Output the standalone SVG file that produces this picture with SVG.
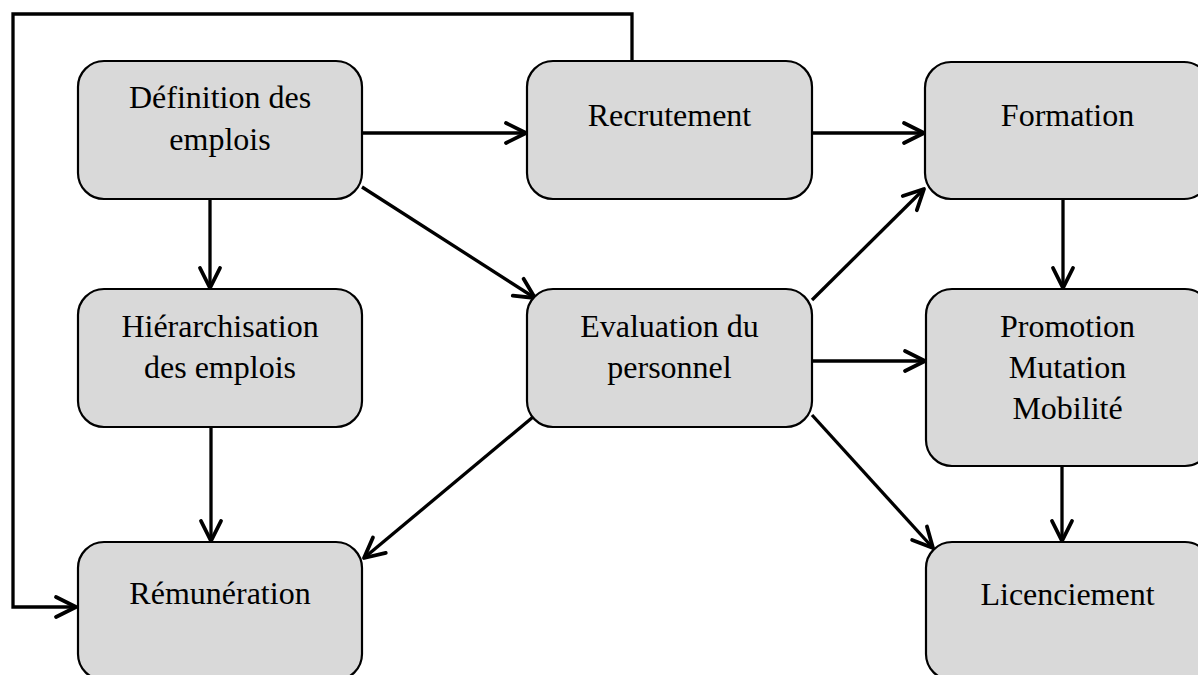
<svg xmlns="http://www.w3.org/2000/svg" width="1198" height="675" viewBox="0 0 1198 675">
<style>
.box{fill:#d9d9d9;stroke:#000;stroke-width:2.2}
.lbl{font-family:"Liberation Serif","Times New Roman",serif;font-size:32px;fill:#000;text-anchor:middle}
.con{fill:none;stroke:#000;stroke-width:3.3;marker-end:url(#arr)}
</style>
<defs>
<marker id="arr" markerUnits="userSpaceOnUse" viewBox="-24 -14 28 28" markerWidth="28" markerHeight="28" refX="0" refY="0" orient="auto">
<path d="M-20,-10 L0,0 L-20,10" fill="none" stroke="#000" stroke-width="3.8" stroke-linecap="round" stroke-linejoin="round"/>
</marker>
</defs>
<rect width="1198" height="675" fill="#fff"/>
<g id="connectors">
<path class="con" d="M632,61 V14 H13 V607 H76"/>
<path class="con" d="M362,133 H526"/>
<path class="con" d="M812,133 H924"/>
<path class="con" d="M210,199 V288"/>
<path class="con" d="M211,427 V541"/>
<path class="con" d="M362,187 L535,298"/>
<path class="con" d="M812,300 L924,189"/>
<path class="con" d="M812,361 H925"/>
<path class="con" d="M812,415 L933,548"/>
<path class="con" d="M533,417 L364,558"/>
<path class="con" d="M1063,199 V288"/>
<path class="con" d="M1062,466 V541"/>
</g>
<g id="n-definition">
<rect class="box" x="78" y="61" width="284" height="138" rx="26"/>
<text class="lbl" x="220" y="108">Définition des</text>
<text class="lbl" x="220" y="150">emplois</text>
</g>
<g id="n-recrutement">
<rect class="box" x="527" y="61" width="285" height="138" rx="26"/>
<text class="lbl" x="669.5" y="126">Recrutement</text>
</g>
<g id="n-formation">
<rect class="box" x="925" y="62" width="285" height="137" rx="26"/>
<text class="lbl" x="1067.5" y="126">Formation</text>
</g>
<g id="n-hierarchisation">
<rect class="box" x="78" y="289" width="284" height="138" rx="26"/>
<text class="lbl" x="220" y="337">Hiérarchisation</text>
<text class="lbl" x="220" y="378">des emplois</text>
</g>
<g id="n-evaluation">
<rect class="box" x="527" y="289" width="285" height="138" rx="26"/>
<text class="lbl" x="669.5" y="337">Evaluation du</text>
<text class="lbl" x="669.5" y="378">personnel</text>
</g>
<g id="n-promotion">
<rect class="box" x="926" y="289" width="285" height="177" rx="26"/>
<text class="lbl" x="1067.5" y="337">Promotion</text>
<text class="lbl" x="1067.5" y="378">Mutation</text>
<text class="lbl" x="1067.5" y="419">Mobilité</text>
</g>
<g id="n-remuneration">
<rect class="box" x="78" y="542" width="284" height="138" rx="26"/>
<text class="lbl" x="220" y="604">Rémunération</text>
</g>
<g id="n-licenciement">
<rect class="box" x="926" y="542" width="285" height="138" rx="26"/>
<text class="lbl" x="1067.5" y="605">Licenciement</text>
</g>
</svg>
